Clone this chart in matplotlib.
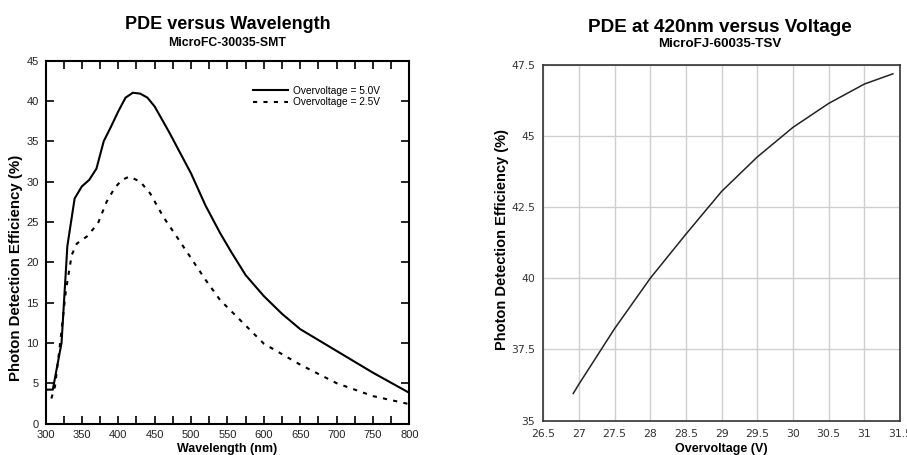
import numpy as np
import matplotlib.pyplot as plt
from matplotlib.ticker import MultipleLocator

plt.rcParams['font.family'] = ['Liberation Sans', 'DejaVu Sans']

# ---- left: PDE vs wavelength ----
wl_5v = [300, 310, 322, 330, 340, 350, 360, 370, 380, 390, 400, 410, 420, 430, 440,
         450, 470, 500, 520, 540, 555, 575, 600, 625, 650, 700, 750, 800]
pde_5v = [4.2, 4.2, 10.0, 22.0, 27.9, 29.4, 30.2, 31.6, 35.0, 36.8, 38.7, 40.4, 41.0, 40.9, 40.4,
          39.3, 36.1, 31.0, 27.0, 23.6, 21.3, 18.4, 15.8, 13.6, 11.7, 9.0, 6.3, 3.8]

wl_25v = [308, 313, 320, 328, 336, 343, 357, 372, 384, 395, 405, 415, 430, 444, 462,
          480, 500, 520, 540, 560, 600, 650, 700, 750, 800]
pde_25v = [3.1, 4.6, 9.9, 16.5, 20.9, 22.3, 23.2, 24.8, 27.5, 29.2, 30.2, 30.6, 30.0, 28.5, 25.6,
           23.2, 20.5, 17.8, 15.3, 13.5, 9.9, 7.3, 5.0, 3.4, 2.4]

# ---- right: PDE at 420nm vs overvoltage ----
volt = [26.92, 27.0, 27.5, 28.0, 28.5, 29.0, 29.5, 30.0, 30.5, 31.0, 31.4]
pde_420 = [35.95, 36.28, 38.23, 40.0, 41.55, 43.05, 44.26, 45.3, 46.14, 46.82, 47.18]

fig = plt.figure(figsize=(9.07, 4.55), dpi=100)

#-------------------------------------------------------------------
ax1 = fig.add_axes([0.0502, 0.0692, 0.4011, 0.7978])
ax1.plot(wl_5v, pde_5v, color='black', linewidth=1.5, label='Overvoltage = 5.0V')
ax1.plot(wl_25v, pde_25v, color='black', linewidth=1.5, linestyle=(0, (2, 3)),
         label='Overvoltage = 2.5V')
ax1.set_xlim(300, 800)
ax1.set_ylim(0, 45)
ax1.xaxis.set_major_locator(MultipleLocator(50))
ax1.xaxis.set_minor_locator(MultipleLocator(25))
ax1.yaxis.set_major_locator(MultipleLocator(5))
ax1.tick_params(which='both', direction='in', top=True, right=True, length=6, width=1.2,
                labelsize=8, colors='black', labelcolor='#222222', pad=5)
ax1.tick_params(which='minor', length=6)
for s in ax1.spines.values():
    s.set_linewidth(1.5)
ax1.set_xlabel('Wavelength (nm)', fontsize=9, fontweight='bold', labelpad=2)
ax1.set_ylabel('Photon Detection Efficiency (%)', fontsize=10.8, fontweight='bold')
ax1.yaxis.set_label_coords(-0.062, 0.43)
ax1.legend(loc='upper right', bbox_to_anchor=(0.94, 0.95), frameon=False, fontsize=7.3,
           handlelength=3.4, handletextpad=0.55, labelspacing=0.15, borderpad=0.2)
fig.text(0.2508, 0.946, 'PDE versus Wavelength', ha='center', va='center',
         fontsize=13, fontweight='bold')
fig.text(0.2508, 0.906, 'MicroFC-30035-SMT', ha='center', va='center',
         fontsize=8.8, fontweight='bold')

#-------------------------------------------------------------------
ax2 = fig.add_axes([0.599, 0.0758, 0.3933, 0.782])
ax2.plot(volt, pde_420, color='#222222', linewidth=1.1)
ax2.set_xlim(26.5, 31.5)
ax2.set_ylim(35, 47.5)
ax2.set_xticks(np.arange(26.5, 31.51, 0.5))
ax2.set_yticks(np.arange(35, 47.51, 2.5))
ax2.set_xticklabels(['26.5', '27', '27.5', '28', '28.5', '29', '29.5', '30', '30.5', '31', '31.5'])
ax2.set_yticklabels(['35', '37.5', '40', '42.5', '45', '47.5'])
ax2.grid(True, color='#cfcfcf', linewidth=1)
ax2.set_axisbelow(True)
ax2.tick_params(length=0, labelsize=7.8, labelcolor='#333333', pad=6)
for lbl in ax2.get_xticklabels() + ax2.get_yticklabels():
    lbl.set_family('DejaVu Sans')
for s in ax2.spines.values():
    s.set_linewidth(1.2)
    s.set_color('#333333')
ax2.set_xlabel('Overvoltage (V)', fontsize=9, fontweight='bold', labelpad=3)
ax2.set_ylabel('Photon Detection Efficiency (%)', fontsize=10.5, fontweight='bold')
ax2.yaxis.set_label_coords(-0.096, 0.51)
fig.text(0.794, 0.94, 'PDE at 420nm versus Voltage', ha='center', va='center',
         fontsize=13.6, fontweight='bold')
fig.text(0.794, 0.904, 'MicroFJ-60035-TSV', ha='center', va='center',
         fontsize=9.6, fontweight='bold')

fig.savefig('out.png', dpi=100, facecolor='white')
